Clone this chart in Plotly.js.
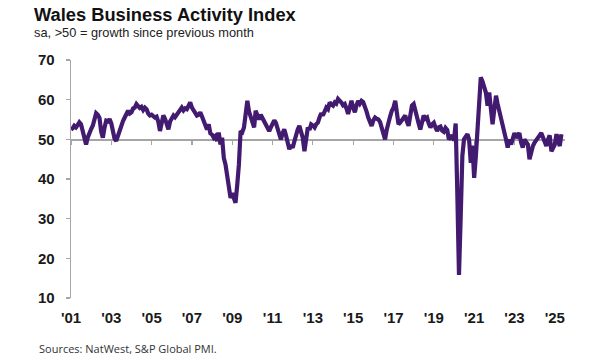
<!DOCTYPE html>
<html>
<head>
<meta charset="utf-8">
<script src="https://cdn.plot.ly/plotly-3.0.1.min.js"></script>
<style>
  html, body { margin: 0; padding: 0; background: #ffffff; }
  #chart { width: 600px; height: 360px; }
</style>
</head>
<body>
<div id="chart"></div>
<script>
// Monthly series start (Jan 2001)
const startYear = 2001;

// Wales Business Activity Index, monthly, Jan 2001 - May 2025
const values2001 = [52.5, 52.8, 53.4, 53.0, 53.6, 54.3, 53.8, 52.0, 50.2, 48.7, 50.5, 51.8];
const values2002 = [52.6, 53.5, 55.0, 56.6, 56.2, 55.4, 52.0, 50.4, 53.0, 54.7, 54.5, 55.1];
const values2003 = [54.0, 51.5, 50.2, 49.6, 51.0, 52.2, 53.8, 54.6, 55.5, 56.4, 57.2, 56.5];
const values2004 = [56.8, 57.8, 58.0, 58.9, 58.3, 57.9, 58.2, 57.4, 58.0, 57.6, 56.5, 56.0];
const values2005 = [56.2, 55.8, 55.5, 55.7, 54.5, 52.1, 54.0, 56.0, 55.2, 54.0, 52.5, 54.5];
const values2006 = [55.4, 56.0, 55.6, 56.3, 56.8, 57.2, 58.0, 57.3, 57.8, 57.6, 58.4, 59.3];
const values2007 = [58.0, 57.2, 56.8, 56.0, 56.2, 56.8, 55.8, 54.7, 54.0, 52.5, 53.8, 51.5];
const values2008 = [51.2, 50.4, 50.8, 49.6, 51.7, 48.7, 50.4, 45.3, 43.6, 41.0, 38.6, 35.2];
const values2009 = [36.4, 35.0, 34.0, 38.5, 43.6, 52.1, 51.8, 53.0, 56.0, 59.7, 57.0, 55.5];
const values2010 = [54.0, 53.0, 57.2, 56.0, 55.0, 56.2, 55.4, 54.5, 53.8, 53.0, 52.1, 53.0];
const values2011 = [53.8, 54.8, 54.2, 52.5, 51.0, 50.0, 51.5, 52.5, 51.0, 49.6, 47.5, 48.5];
const values2012 = [47.9, 49.5, 51.3, 52.5, 53.4, 52.0, 50.4, 47.0, 50.0, 53.0, 52.4, 53.8];
const values2013 = [53.5, 53.0, 53.8, 54.2, 55.5, 56.6, 56.0, 56.8, 58.0, 57.6, 59.3, 58.8];
const values2014 = [58.5, 59.3, 59.0, 60.2, 59.8, 59.3, 58.6, 58.9, 57.8, 56.4, 58.0, 59.7];
const values2015 = [58.0, 56.8, 58.5, 59.7, 59.0, 59.7, 59.4, 58.5, 57.0, 55.5, 54.5, 53.4];
const values2016 = [54.8, 55.5, 55.2, 55.0, 54.4, 53.0, 51.5, 50.0, 52.5, 54.7, 55.8, 57.2];
const values2017 = [58.0, 59.7, 56.0, 53.8, 54.2, 54.7, 55.5, 56.0, 54.5, 53.4, 56.0, 58.5];
const values2018 = [58.9, 57.5, 55.5, 54.0, 52.5, 54.5, 56.0, 55.2, 55.5, 54.0, 53.0, 53.8];
const values2019 = [54.2, 53.0, 52.1, 53.0, 53.2, 52.2, 51.9, 52.9, 52.4, 50.0, 50.5, 51.0];
const values2020 = [49.7, 54.0, 37.0, 15.8, 30.0, 45.8, 50.0, 50.9, 51.3, 50.0, 44.1, 48.4];
const values2021 = [40.3, 45.8, 51.0, 59.5, 65.6, 64.6, 63.0, 61.8, 58.5, 61.8, 57.6, 53.8];
const values2022 = [57.5, 61.0, 59.0, 57.2, 56.0, 54.5, 52.8, 50.0, 47.9, 50.0, 48.7, 50.6];
const values2023 = [51.6, 50.4, 51.0, 51.6, 49.2, 47.9, 50.0, 49.3, 48.7, 45.0, 46.8, 48.3];
const values2024 = [49.2, 50.0, 50.4, 51.0, 51.6, 50.5, 50.0, 48.3, 50.0, 51.0, 47.0, 48.0];
const values2025 = [48.7, 51.3, 49.5, 48.3, 51.3];

// Tick positions and labels on the time axis
const tickDates = ['2001-01-01', '2003-01-01', '2005-01-01', '2007-01-01', '2009-01-01',
                   '2011-01-01', '2013-01-01', '2015-01-01', '2017-01-01', '2019-01-01',
                   '2021-01-01', '2023-01-01', '2025-01-01'];
const tickLabels = ["'01", "'03", "'05", "'07", "'09", "'11", "'13", "'15", "'17", "'19", "'21", "'23", "'25"];
const yTicks = [10, 20, 30, 40, 50, 60, 70];

const values = [].concat(values2001, values2002, values2003, values2004, values2005, values2006,
  values2007, values2008, values2009, values2010, values2011, values2012, values2013, values2014,
  values2015, values2016, values2017, values2018, values2019, values2020, values2021, values2022,
  values2023, values2024, values2025);

const dates = values.map((_, i) => {
  const y = startYear + Math.floor(i / 12);
  const m = (i % 12) + 1;
  return y + '-' + String(m).padStart(2, '0') + '-01';
});

const FONT = 'Liberation Sans, Arial, sans-serif';
const AXIS_GREY = '#a6a6a6';
const xRange = ['2001-01-01', '2025-07-05'];

const traces = [
  { // invisible carrier for the bottom label axis
    x: dates, y: values, xaxis: 'x', yaxis: 'y', type: 'scatter', mode: 'lines',
    line: { color: 'rgba(0,0,0,0)', width: 0 }, hoverinfo: 'skip', showlegend: false
  },
  {
    x: dates, y: values, xaxis: 'x2', yaxis: 'y', type: 'scatter', mode: 'lines',
    line: { color: '#421b70', width: 4.2, shape: 'linear' },
    showlegend: false
  }
];

const layout = {
  width: 600, height: 360,
  margin: { l: 71, r: 35, t: 60, b: 62 },
  paper_bgcolor: '#ffffff', plot_bgcolor: '#ffffff',
  font: { family: FONT, color: '#1a1a1a' },
  showlegend: false,
  title: {
    text: 'Wales Business Activity Index',
    font: { family: FONT, size: 18.3, color: '#111111', weight: 'bold' },
    xref: 'container', yref: 'container',
    x: 34 / 600, xanchor: 'left',
    y: 1 - 15 / 360, yanchor: 'middle'
  },
  xaxis: {
    type: 'date', range: xRange,
    tickvals: tickDates, ticktext: tickLabels,
    showline: false, showgrid: false, zeroline: false,
    ticks: 'outside', ticklen: 6, tickcolor: 'rgba(0,0,0,0)',
    tickfont: { family: FONT, size: 15, color: '#1a1a1a', weight: 'bold' },
    fixedrange: true
  },
  xaxis2: {
    type: 'date', range: xRange, overlaying: 'x', anchor: 'free',
    position: (50 - 10) / (70 - 10),
    tickvals: tickDates, showticklabels: false,
    showline: true, linecolor: AXIS_GREY, linewidth: 1.3,
    ticks: 'outside', ticklen: 4, tickcolor: AXIS_GREY, tickwidth: 1.2,
    showgrid: false, zeroline: false, layer: 'below traces',
    fixedrange: true
  },
  yaxis: {
    range: [10, 70], tickvals: yTicks,
    showline: true, linecolor: AXIS_GREY, linewidth: 1.3,
    ticks: 'outside', ticklen: 4, tickcolor: AXIS_GREY, tickwidth: 1.2,
    ticklabelstandoff: 8,
    showgrid: false, zeroline: false,
    tickfont: { family: FONT, size: 15, color: '#1a1a1a', weight: 'bold' },
    fixedrange: true
  },
  annotations: [
    {
      text: 'sa, >50 = growth since previous month',
      xref: 'paper', yref: 'paper',
      x: (32 - 71) / 494, y: (298 - 33) / 238,
      xanchor: 'left', yanchor: 'middle', showarrow: false,
      font: { family: FONT, size: 12.8, color: '#222222' }
    },
    {
      text: 'Sources: NatWest, S&amp;P Global PMI.',
      xref: 'paper', yref: 'paper',
      x: (37 - 71) / 494, y: (298 - 348) / 238,
      xanchor: 'left', yanchor: 'middle', showarrow: false,
      font: { family: 'Open Sans, Liberation Sans, sans-serif', size: 11, color: '#333333' }
    }
  ]
};

Plotly.newPlot('chart', traces, layout, { displayModeBar: false, staticPlot: true });
</script>
</body>
</html>
